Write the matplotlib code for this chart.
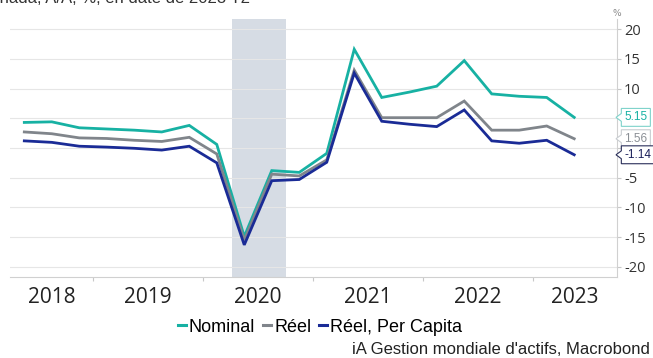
import matplotlib
matplotlib.use("Agg")
import matplotlib.pyplot as plt
from matplotlib.path import Path
from matplotlib.lines import Line2D
import matplotlib.transforms as mtransforms

# ---- data ----
years = [2018, 2018, 2018, 2019, 2019, 2019, 2019, 2020, 2020, 2020, 2020,
         2021, 2021, 2021, 2021, 2022, 2022, 2022, 2022, 2023, 2023]
quarters = [2, 3, 4, 1, 2, 3, 4, 1, 2, 3, 4, 1, 2, 3, 4, 1, 2, 3, 4, 1, 2]
nominal = [4.3, 4.4, 3.4, 3.2, 3.0, 2.7, 3.8, 0.6, -14.9, -3.8, -4.1, -0.9,
           16.6, 8.5, 9.4, 10.4, 14.7, 9.1, 8.7, 8.5, 5.15]
reel = [2.7, 2.4, 1.7, 1.6, 1.3, 1.1, 1.8, -1.0, -15.5, -4.4, -4.7, -2.0,
        13.1, 5.1, 5.1, 5.1, 7.9, 3.0, 3.0, 3.7, 1.56]
per_capita = [1.2, 0.95, 0.3, 0.15, -0.05, -0.35, 0.3, -2.5, -16.3, -5.5, -5.3, -2.4,
              12.6, 4.5, 4.0, 3.6, 6.4, 1.2, 0.8, 1.3, -1.14]
series_names = ["Nominal", "Réel", "Réel, Per Capita"]
year_labels = ["2018", "2019", "2020", "2021", "2022", "2023"]
ytick_values = [-20, -15, -10, -5, 0, 5, 10, 15, 20]
ytick_labels = ["-20", "-15", "-10", "-5", "", "", "10", "15", "20"]
recession = (2020.26, 2020.75)

colors = ["#17b1a3", "#80858b", "#1a2b96"]
label_text_colors = ["#17b1a3", "#8a8f95", "#1a1f5a"]
label_edge_colors = ["#7fd3cb", "#c8ccd0", "#2a2f5a"]

x = [y + (q - 0.5) / 4 for y, q in zip(years, quarters)]
XMIN, XMAX = 2018.245, 2023.764

fig = plt.figure(figsize=(6.53, 3.58), dpi=100)
ax = fig.add_axes([10 / 653, 1 - 277 / 358, 607 / 653, 258 / 358])

ax.axvspan(recession[0], recession[1], color="#d6dce4", lw=0, zorder=0)
for yv in ytick_values:
    ax.axhline(yv, color="#e6e6e6", lw=0.8, zorder=1)

for vals, c, name in zip([nominal, reel, per_capita], colors, series_names):
    ax.plot(x, vals, color=c, lw=2.0, zorder=3, label=name,
            solid_joinstyle="miter")

ax.set_xlim(XMIN, XMAX)
ax.set_ylim(-21.7, 21.7)

# y axis on right
ax.yaxis.tick_right()
ax.set_yticks(ytick_values)
ax.set_yticklabels(ytick_labels, fontsize=10.5, color="#333333", family="Open Sans")
ax.tick_params(axis="y", length=3, width=0.8, color="#c8c8c8", pad=2)

# x axis: boundaries as major ticks, labels as minor ticks
ax.set_xticks([2019, 2020, 2021, 2022, 2023])
ax.set_xticklabels([])
ax.tick_params(axis="x", which="major", length=3, width=0.8, color="#c8c8c8", direction="out")
first = int(year_labels[0])
last = int(year_labels[-1])
label_pos = []
for lab in year_labels:
    yv = int(lab)
    lo = max(yv, XMIN)
    hi = min(yv + 1, XMAX)
    label_pos.append((lo + hi) / 2)
ax.set_xticks(label_pos, minor=True)
ax.set_xticklabels(year_labels, minor=True, fontsize=15, color="#222222", family="Open Sans")
ax.tick_params(axis="x", which="minor", length=0, pad=7)

for s in ["top", "left"]:
    ax.spines[s].set_visible(False)
for s in ["bottom", "right"]:
    ax.spines[s].set_color("#d0d0d0")
    ax.spines[s].set_linewidth(0.8)

# value labels with notch
def notch_box(x0, y0, width, height, mutation_size):
    pad = 0.25 * mutation_size
    x0 -= pad
    y0 -= pad
    w = width + 2 * pad
    h = height + 2 * pad
    n = 0.45 * mutation_size
    verts = [(x0, y0), (x0 + w, y0), (x0 + w, y0 + h), (x0, y0 + h),
             (x0, y0 + h * 0.72), (x0 - n, y0 + h * 0.5), (x0, y0 + h * 0.28),
             (x0, y0)]
    codes = [Path.MOVETO] + [Path.LINETO] * 6 + [Path.CLOSEPOLY]
    return Path(verts, codes)

trans = mtransforms.blended_transform_factory(ax.transAxes, ax.transData)
for vals, tc, ec in zip([nominal, reel, per_capita], label_text_colors, label_edge_colors):
    v = vals[-1]
    ax.text(1.012, v, f"{v:.2f}", transform=trans, fontsize=8.5, color=tc,
            family="Liberation Sans", va="center", ha="left", clip_on=False, zorder=6,
            bbox=dict(boxstyle=notch_box, fc="white", ec=ec, lw=0.8))

fig.text(617 / 653, 1 - 13 / 358, "%", fontsize=6.5, color="#888888", ha="center", va="center")

# title (cut at top)
fig.text(250 / 653, 1 - 3 / 358, "Statistics Canada, A/A, %, en date de 2023 T2",
         fontsize=12, color="#333333", ha="right", va="baseline", family="Liberation Sans")

# legend
handles = [Line2D([0], [0], color=c, lw=2.2) for c in colors]
fig.legend(handles, series_names, loc="center", bbox_to_anchor=(0.49, 1 - 327 / 358),
           ncol=3, frameon=False, handlelength=0.45, handletextpad=0.15,
           columnspacing=0.45, prop=dict(family="Liberation Sans", size=13))

fig.text(650 / 653, 1 - 350 / 358, "iA Gestion mondiale d'actifs, Macrobond",
         fontsize=12, color="#222222", ha="right", va="center", family="Liberation Sans")

fig.savefig("out.png", dpi=100, facecolor="white")
